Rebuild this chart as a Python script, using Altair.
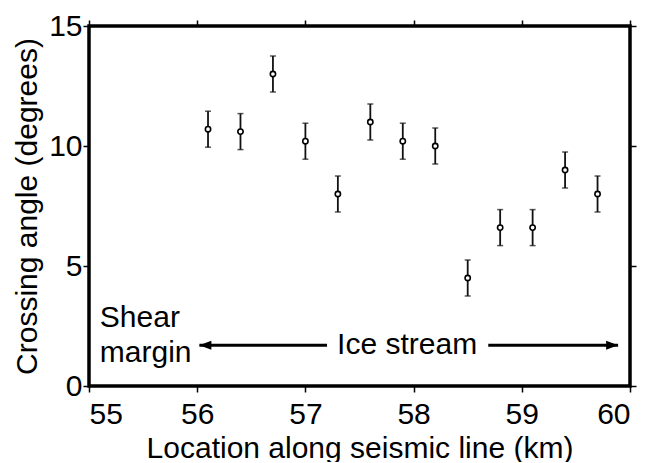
import altair as alt
import pandas as pd

# data
location = [56.1, 56.4, 56.7, 57.0, 57.3, 57.6, 57.9, 58.2, 58.5, 58.8, 59.1, 59.4, 59.7]
angle = [10.7, 10.6, 13.0, 10.2, 8.0, 11.0, 10.2, 10.0, 4.5, 6.6, 6.6, 9.0, 8.0]
err = [0.75] * 13

x_ticks = [55, 56, 57, 58, 59, 60]
y_ticks = [0, 5, 10, 15]

labels_text = ["Shear", "margin", "Ice stream"]
labels_x = [55.10, 55.10, 57.94]
labels_y = [2.46, 1.0, 1.33]
labels_align = ["left", "left", "center"]

arrow_tail = [57.2, 58.69]
arrow_tip = [56.02, 59.89]
arrow_y = [1.70, 1.70]

FONT = "Liberation Sans"

df = pd.DataFrame({"x": location, "y": angle, "e": err})
df["lo"] = df["y"] - df["e"]
df["hi"] = df["y"] + df["e"]

xs = alt.Scale(domain=[55, 60], nice=False, zero=False)
ys = alt.Scale(domain=[0, 15], nice=False, zero=False)

tick_style = dict(domain=False, grid=False, tickColor="black", tickWidth=1.5, tickSize=6)

x_bottom = alt.X("x:Q", scale=xs, axis=alt.Axis(
    orient="bottom", values=x_ticks, title="Location along seismic line (km)",
    labelFont=FONT, labelFontSize=30, labelColor="black", labelPadding=7,
    titleFont=FONT, titleFontSize=30, titleFontWeight="normal", titleColor="black",
    titlePadding=4, **tick_style))
y_left = alt.Y("lo:Q", scale=ys, axis=alt.Axis(
    orient="left", values=y_ticks, title="Crossing angle (degrees)",
    labelFont=FONT, labelFontSize=30, labelColor="black", labelPadding=1,
    titleFont=FONT, titleFontSize=30, titleFontWeight="normal", titleColor="black",
    titlePadding=6, **tick_style))

X = alt.X("x:Q", scale=xs, axis=None)

base = alt.Chart(df)

bars = base.mark_rule(color="#111111", strokeWidth=1.8).encode(
    x=x_bottom, y=y_left, y2="hi:Q")

caps_lo = base.mark_tick(color="#111111", orient="horizontal", size=6, thickness=1.5).encode(
    x=X, y=alt.Y("lo:Q", scale=ys, axis=None))
caps_hi = base.mark_tick(color="#111111", orient="horizontal", size=6, thickness=1.5).encode(
    x=X, y=alt.Y("hi:Q", scale=ys, axis=None))

pts = base.mark_point(shape="circle", size=28, filled=False, fill="white", fillOpacity=1,
                      stroke="black", strokeWidth=1.6).encode(
    x=alt.X("x:Q", scale=xs, axis=alt.Axis(
        orient="top", values=x_ticks, labels=False, title=None, **tick_style)),
    y=alt.Y("y:Q", scale=ys, axis=alt.Axis(
        orient="right", values=y_ticks, labels=False, title=None, **tick_style)))

txt_df = pd.DataFrame({"t": labels_text, "x": labels_x, "y": labels_y, "a": labels_align})
txt_left = alt.Chart(txt_df[txt_df["a"] == "left"]).mark_text(
    font=FONT, fontSize=30, align="left", baseline="alphabetic", color="black").encode(
    x=X, y=alt.Y("y:Q", scale=ys, axis=None), text="t:N")
txt_center = alt.Chart(txt_df[txt_df["a"] == "center"]).mark_text(
    font=FONT, fontSize=30, align="center", baseline="alphabetic", color="black").encode(
    x=X, y=alt.Y("y:Q", scale=ys, axis=None), text="t:N")

arr_df = pd.DataFrame({"tail": arrow_tail, "tip": arrow_tip, "y": arrow_y,
                       "dir": ["left", "right"]})
arr_lines = alt.Chart(arr_df).mark_rule(color="black", strokeWidth=3).encode(
    x=alt.X("tail:Q", scale=xs, axis=None), x2="tip:Q",
    y=alt.Y("y:Q", scale=ys, axis=None))
head_left = alt.Chart(arr_df[arr_df["dir"] == "left"]).mark_point(
    shape="M0,0L2,-0.75L2,0.75Z", size=144, filled=True, color="black", opacity=1).encode(
    x=alt.X("tip:Q", scale=xs, axis=None), y=alt.Y("y:Q", scale=ys, axis=None))
head_right = alt.Chart(arr_df[arr_df["dir"] == "right"]).mark_point(
    shape="M0,0L-2,-0.75L-2,0.75Z", size=144, filled=True, color="black", opacity=1).encode(
    x=alt.X("tip:Q", scale=xs, axis=None), y=alt.Y("y:Q", scale=ys, axis=None))

chart = alt.layer(
    bars, pts, caps_lo, caps_hi, arr_lines, head_left, head_right, txt_left, txt_center
).resolve_axis(x="independent", y="independent").properties(
    width=541, height=360,
    autosize=alt.AutoSizeParams(type="none"),
    padding={"left": 81, "top": 18, "right": 12, "bottom": 76},
    background="white",
).configure_view(stroke="black", strokeWidth=3.5)

chart.save("out.html", embed_options={"renderer": "svg", "actions": False})
